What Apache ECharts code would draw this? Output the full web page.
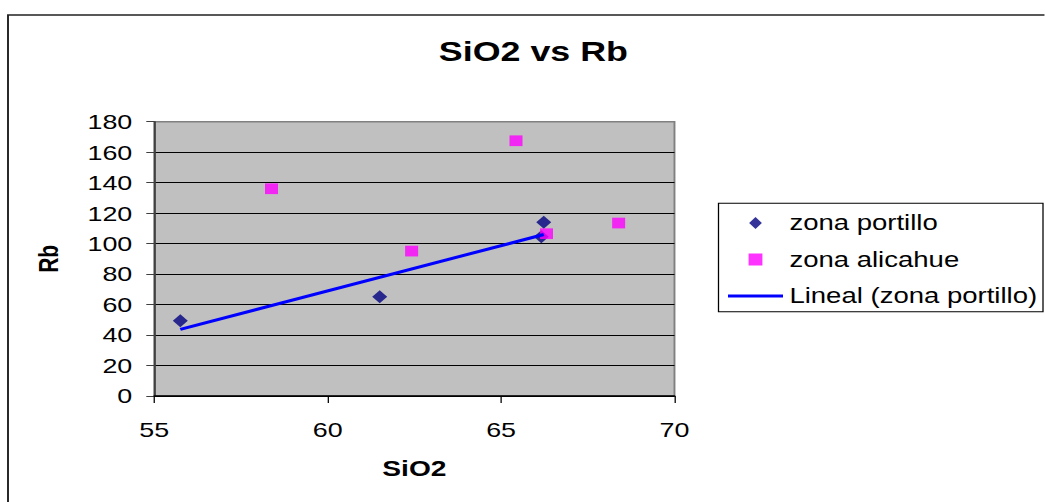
<!DOCTYPE html>
<html>
<head>
<meta charset="utf-8">
<title>SiO2 vs Rb</title>
<script src="https://cdn.jsdelivr.net/npm/echarts@6/dist/echarts.min.js"></script>
<style>
  html, body { margin: 0; padding: 0; background: #fff; overflow: hidden; }
  #wrap { width: 1045px; height: 502px; overflow: hidden; position: relative; }
  #chart { position: absolute; left: 0; top: 0; height: 502px; transform-origin: 0 0; }
</style>
</head>
<body>
<div id="wrap"><div id="chart"></div></div>
<script>
// Sample measurements: SiO2 (wt %) against Rb (ppm)
const portilloSiO2 = [55.75, 61.5, 66.23, 66.16];
const portilloRb   = [49.4, 65.2, 114.0, 104.5];
const alicahueSiO2 = [58.38, 62.42, 65.43, 66.31, 68.39];
const alicahueRb   = [136.0, 95.1, 167.5, 106.5, 113.5];

const seriesNames = ['zona portillo', 'zona alicahue', 'Lineal (zona portillo)'];
const xTicks = { min: 55, max: 70, step: 5 };
const yTicks = { min: 0, max: 180, step: 20 };

// The chart is drawn in a narrower box and stretched horizontally.
const S = 1.28;
const W = 1045 / S;
const X = v => v / S;

const chartEl = document.getElementById('chart');
chartEl.style.width = W + 'px';
chartEl.style.transform = 'scaleX(' + S + ')';

// Least-squares trend line through the portillo samples
function linearFit(xs, ys) {
  const n = xs.length;
  const mx = xs.reduce((a, b) => a + b, 0) / n;
  const my = ys.reduce((a, b) => a + b, 0) / n;
  let sxy = 0, sxx = 0;
  for (let i = 0; i < n; i++) {
    sxy += (xs[i] - mx) * (ys[i] - my);
    sxx += (xs[i] - mx) * (xs[i] - mx);
  }
  const slope = sxy / sxx;
  return { slope, intercept: my - slope * mx };
}
const fit = linearFit(portilloSiO2, portilloRb);
const xLo = Math.min(...portilloSiO2), xHi = Math.max(...portilloSiO2);
const trend = [[xLo, fit.intercept + fit.slope * xLo], [xHi, fit.intercept + fit.slope * xHi]];

const zip = (a, b) => a.map((v, i) => [v, b[i]]);
const FONT = '"Liberation Sans", Arial, sans-serif';

const nLines = (yTicks.max - yTicks.min) / yTicks.step + 1;
const gridColors = [];
for (let i = 0; i < nLines; i++) gridColors.push(i === nLines - 1 ? '#808080' : '#000000');

const chart = echarts.init(chartEl, null, { renderer: 'svg' });
chart.setOption({
  animation: false,
  textStyle: { fontFamily: FONT },
  title: {
    text: 'SiO2 vs Rb',
    left: X(527),
    textAlign: 'center',
    top: 32,
    textStyle: { fontFamily: FONT, fontSize: 28, fontWeight: 'bold', color: '#000' }
  },
  grid: {
    left: X(154.3),
    right: (1045 - 675) / S,
    top: 121.7,
    bottom: 106,
    show: true,
    backgroundColor: '#C0C0C0',
    borderColor: '#808080',
    borderWidth: 1.5
  },
  xAxis: {
    type: 'value',
    min: xTicks.min, max: xTicks.max, interval: xTicks.step,
    name: 'SiO2',
    nameLocation: 'middle',
    nameGap: 61,
    nameTextStyle: { fontFamily: FONT, fontSize: 22, fontWeight: 'bold', color: '#000' },
    axisLine: { show: true, lineStyle: { color: '#000', width: 1.5 } },
    axisTick: { show: true, length: 7, lineStyle: { color: '#000', width: 1 } },
    axisLabel: { fontFamily: FONT, fontSize: 21, color: '#000', margin: 23 },
    splitLine: { show: false }
  },
  yAxis: {
    type: 'value',
    min: yTicks.min, max: yTicks.max, interval: yTicks.step,
    name: 'Rb',
    nameLocation: 'middle',
    nameRotate: 90,
    nameGap: 72,
    nameTextStyle: { fontFamily: FONT, fontSize: 21, fontWeight: 'bold', color: '#000' },
    axisLine: { show: true, lineStyle: { color: '#404040', width: 1.5 } },
    axisTick: { show: true, length: X(8), lineStyle: { color: '#404040', width: 1 } },
    axisLabel: { fontFamily: FONT, fontSize: 21, color: '#000', margin: X(22) },
    splitLine: { show: true, lineStyle: { color: gridColors, width: 1 } }
  },
  legend: {
    orient: 'vertical',
    left: X(728),
    top: 212,
    padding: 0,
    itemWidth: X(55),
    itemHeight: 12,
    itemGap: 14.5,
    textStyle: { fontFamily: FONT, fontSize: 21.5, color: '#000' },
    data: [
      { name: seriesNames[0], icon: 'path://M5,0L10,6L5,12L0,6Z' },
      { name: seriesNames[1], icon: 'path://M0,0L9,0L9,10L0,10Z' },
      { name: seriesNames[2], icon: 'path://M0,0L43,0L43,3L0,3Z' }
    ]
  },
  graphic: [
    {
      type: 'rect',
      silent: true,
      shape: { x: X(8), y: 15, width: W + 50, height: 600 },
      style: { fill: 'none', stroke: '#222', lineWidth: 1.5 }
    },
    {
      type: 'rect',
      silent: true,
      shape: { x: X(718.5), y: 203.3, width: (1043 - 718.5) / S, height: 108.4 },
      style: { fill: 'none', stroke: '#000', lineWidth: 1 }
    }
  ],
  series: [
    {
      name: seriesNames[0],
      type: 'scatter',
      symbol: 'diamond',
      symbolSize: [X(15), 13],
      itemStyle: { color: '#000080' },
      data: zip(portilloSiO2, portilloRb),
      z: 2
    },
    {
      name: seriesNames[1],
      type: 'scatter',
      symbol: 'rect',
      symbolSize: [X(13), 10.7],
      itemStyle: { color: '#FF00FF' },
      data: zip(alicahueSiO2, alicahueRb),
      z: 3
    },
    {
      name: seriesNames[2],
      type: 'line',
      symbol: 'none',
      itemStyle: { color: '#0000FF' },
      lineStyle: { color: '#0000FF', width: 3 },
      data: trend,
      z: 4
    }
  ]
});
</script>
</body>
</html>
